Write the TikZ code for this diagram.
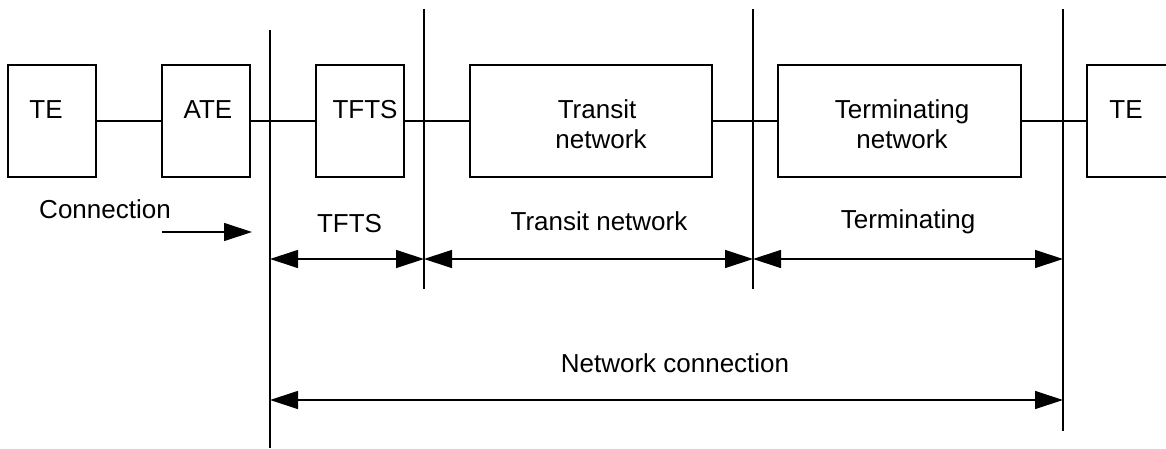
\documentclass[tikz,border=0pt]{standalone}
\usepackage{fontspec}
\setmainfont{Liberation Sans}
\usetikzlibrary{arrows.meta}
\tikzset{
  blk/.style={draw,line width=1.2pt,minimum height=112pt,inner sep=0pt},
  txt/.style={font=\fontsize{26}{30}\selectfont,inner sep=0pt,anchor=base},
  tip/.style={-{Triangle[length=28pt,width=18pt]},line width=1.2pt},
  dim/.style={{Triangle[length=28pt,width=18pt]}-{Triangle[length=28pt,width=18pt]},line width=1.2pt},
}
\begin{document}
\begin{tikzpicture}[x=1pt,y=1pt,line width=1.2pt]
\useasboundingbox (0,0) rectangle (1166,448);
\clip (0,0) rectangle (1166,448);
% boxes
\node[blk,minimum width=88pt]  (te)      at (52,327)    {};
\node[blk,minimum width=88pt]  (ate)     at (206,327)   {};
\node[blk,minimum width=88pt]  (tfts)    at (360,327)   {};
\node[blk,minimum width=242pt] (transit) at (591,327)   {};
\node[blk,minimum width=243pt] (term)    at (899.5,327) {};
\node[blk,minimum width=88pt]  (tefar)   at (1131,327)  {};
\node[txt] (tetxt)      at (46,329)   {TE};
\node[txt] (atetxt)     at (208,329)  {ATE};
\node[txt] (tftstxt)    at (365,329)  {TFTS};
\node[txt] (transittxt) at (597,329)  {Transit};
\node[txt] (transitnw)  at (601,300)  {network};
\node[txt] (termtxt)    at (902,329)  {Terminating};
\node[txt] (termnw)     at (902,300)  {network};
\node[txt] (tefartxt)   at (1126,329) {TE};
\draw (te) -- (ate);
\draw (ate) -- (tfts);
\draw (tfts) -- (transit);
\draw (transit) -- (term);
\draw (term) -- (tefar);
% reference points
\coordinate (v1t) at (270,418);  \coordinate (v1b) at (270,0);
\coordinate (v2t) at (424,439);  \coordinate (v2b) at (424,159);
\coordinate (v3t) at (753,439);  \coordinate (v3b) at (753,159);
\coordinate (v4t) at (1063,439); \coordinate (v4b) at (1063,17);
\draw (v1t) -- (v1b);
\draw (v2t) -- (v2b);
\draw (v3t) -- (v3b);
\draw (v4t) -- (v4b);
\coordinate (row1) at (0,189);
\coordinate (row2) at (0,48);
% connection
\node[txt] (conntxt) at (105,230) {Connection};
\coordinate (cs) at (162,216);
\coordinate (ce) at (252,216);
\draw[tip] (cs) -- (ce);
% sections
\node[txt] (tftslbl)    at (349.5,216) {TFTS};
\node[txt] (transitlbl) at (599,218)   {Transit network};
\node[txt] (termlbl)    at (908,220)   {Terminating};
\draw[dim] (v1t |- row1) -- (v2t |- row1);
\draw[dim] (v2t |- row1) -- (v3t |- row1);
\draw[dim] (v3t |- row1) -- (v4t |- row1);
\node[txt] (netlbl) at (675,76) {Network connection};
\draw[dim] (v1t |- row2) -- (v4t |- row2);
\end{tikzpicture}
\end{document}
